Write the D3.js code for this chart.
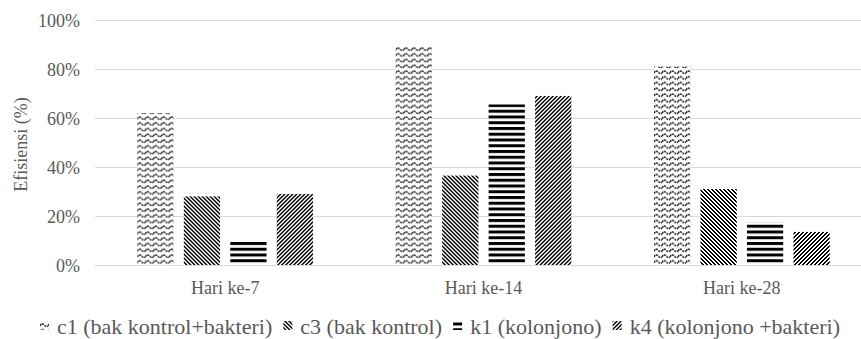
<!DOCTYPE html>
<html>
<head>
<meta charset="utf-8">
<script src="https://cdn.jsdelivr.net/npm/d3@7/dist/d3.min.js"></script>
<style>
  html, body { margin: 0; padding: 0; background: #fff; }
  svg { display: block; }
</style>
</head>
<body>
<svg id="chart" width="861" height="339"></svg>
<script>
// Efficiency per observation day
const categories = ["Hari ke-7", "Hari ke-14", "Hari ke-28"];
const seriesNames = ["c1 (bak kontrol+bakteri)", "c3 (bak kontrol)", "k1 (kolonjono)", "k4 (kolonjono +bakteri)"];
const c1Values = [62, 89, 81];
const c3Values = [28, 36.5, 31];
const k1Values = [10, 65.5, 17.5];
const k4Values = [29, 69, 13.5];
const yTicks = [0, 20, 40, 60, 80, 100];

const seriesValues = [c1Values, c3Values, k1Values, k4Values];
const patternIds = ["pWave", "pDownDiag", "pHoriz", "pUpDiag"];

const FONT = "Liberation Serif";
const TEXT_COLOR = "#595959";

const svg = d3.select("#chart");
const margin = { left: 96, right: -10, top: 20, bottom: 74 };
const W = 861, H = 339;

const defs = svg.append("defs");

// wave fill
const wave = defs.append("pattern").attr("id", "pWave")
  .attr("patternUnits", "userSpaceOnUse").attr("width", 8).attr("height", 5.75);
wave.append("rect").attr("width", 8).attr("height", 5.75).attr("fill", "#fff");
wave.append("path").attr("d", "M0,3.8 Q2,0.6 4,2.9 T8,3.8")
  .attr("fill", "none").attr("stroke", "#1a1a1a").attr("stroke-width", 1.5)
  .attr("stroke-dasharray", "2,0.7");

// pixel bitmap fills (4x4 diagonals)
function bitmapPattern(id, size, isOn) {
  const p = defs.append("pattern").attr("id", id)
    .attr("patternUnits", "userSpaceOnUse").attr("width", size).attr("height", size);
  p.append("rect").attr("width", size).attr("height", size).attr("fill", "#fff");
  for (let r = 0; r < size; r++) {
    for (let c = 0; c < size; c++) {
      if (isOn(r, c)) p.append("rect").attr("x", c).attr("y", r).attr("width", 1).attr("height", 1).attr("fill", "#000");
    }
  }
}
bitmapPattern("pDownDiag", 4, (r, c) => ((c - r + 8) % 4) < 2);
bitmapPattern("pUpDiag", 4, (r, c) => ((c + r) % 4) < 2);

// horizontal bars
const hz = defs.append("pattern").attr("id", "pHoriz")
  .attr("patternUnits", "userSpaceOnUse").attr("width", 4).attr("height", 5.75).attr("y", 265);
hz.append("rect").attr("width", 4).attr("height", 5.75).attr("fill", "#fff");
hz.append("rect").attr("y", 0).attr("width", 4).attr("height", 3).attr("fill", "#000");

// scales
const x0 = d3.scaleBand().domain(categories)
  .range([margin.left, W - margin.right])
  .paddingInner(0.32).paddingOuter(0.16);
const x1 = d3.scaleBand().domain(d3.range(seriesNames.length))
  .range([0, x0.bandwidth()]).paddingInner(0.22);
const y = d3.scaleLinear().domain([0, 100]).range([H - margin.bottom, margin.top]);

// gridlines
svg.append("g").selectAll("line").data(yTicks).join("line")
  .attr("x1", margin.left - 1).attr("x2", W - margin.right)
  .attr("y1", d => y(d) + 0.5).attr("y2", d => y(d) + 0.5)
  .attr("stroke", "#d9d9d9").attr("stroke-width", 1);

// y axis labels
const yAxis = svg.append("g").attr("transform", `translate(80,0)`)
  .call(d3.axisLeft(y).tickValues(yTicks).tickFormat(d => d + "%").tickSize(0).tickPadding(0))
  .attr("font-family", FONT).attr("font-size", 18);
yAxis.select(".domain").remove();
yAxis.selectAll("text")
  .attr("font-family", FONT).attr("font-size", 18).attr("fill", TEXT_COLOR)
  .attr("dy", "0.36em");

// y axis title
svg.append("text")
  .attr("transform", `translate(27,${(y(0) + y(100)) / 2 + 2}) rotate(-90)`)
  .attr("text-anchor", "middle")
  .attr("font-family", FONT).attr("font-size", 18).attr("fill", TEXT_COLOR)
  .text("Efisiensi (%)");

// bars
const groups = svg.append("g").selectAll("g").data(categories).join("g")
  .attr("transform", d => `translate(${x0(d)},0)`);
groups.selectAll("rect").data((d, i) => seriesValues.map((vals, s) => ({ s, v: vals[i] })))
  .join("rect")
  .attr("x", d => x1(d.s))
  .attr("width", x1.bandwidth())
  .attr("y", d => y(d.v))
  .attr("height", d => y(0) - y(d.v))
  .attr("fill", d => `url(#${patternIds[d.s]})`);

// baseline
svg.append("line")
  .attr("x1", margin.left - 1).attr("x2", W - margin.right)
  .attr("y1", y(0) + 0.5).attr("y2", y(0) + 0.5)
  .attr("stroke", "#d9d9d9");

// x axis labels
const xAxis = svg.append("g").attr("transform", `translate(0,${y(0)})`)
  .call(d3.axisBottom(x0).tickSize(0).tickPadding(0))
  .attr("font-family", FONT).attr("font-size", 18);
xAxis.select(".domain").remove();
xAxis.selectAll("text")
  .attr("font-family", FONT).attr("font-size", 18).attr("fill", TEXT_COLOR)
  .attr("y", 29).attr("dy", 0);

// legend: entries laid out in one row between fixed left and right edges
const legendLeft = 40, legendRight = 840, legendBaseline = 334;
const symSize = 9, symGap = 8;
const legend = svg.append("g");
const items = legend.selectAll("g").data(seriesNames).join("g");
items.append("rect").attr("x", 0).attr("y", legendBaseline - 13).attr("width", symSize).attr("height", symSize)
  .attr("fill", (d, i) => `url(#${patternIds[i]})`);
const labels = items.append("text").attr("x", symSize + symGap).attr("y", legendBaseline)
  .attr("font-family", FONT).attr("font-size", 22).attr("fill", TEXT_COLOR)
  .text(d => d);
const widths = labels.nodes().map(n => n.getComputedTextLength() + symSize + symGap);
const gap = (legendRight - legendLeft - d3.sum(widths)) / (widths.length - 1);
let cx = legendLeft;
items.each(function (d, i) {
  d3.select(this).attr("transform", `translate(${cx},0)`);
  cx += widths[i] + gap;
});
</script>
</body>
</html>
